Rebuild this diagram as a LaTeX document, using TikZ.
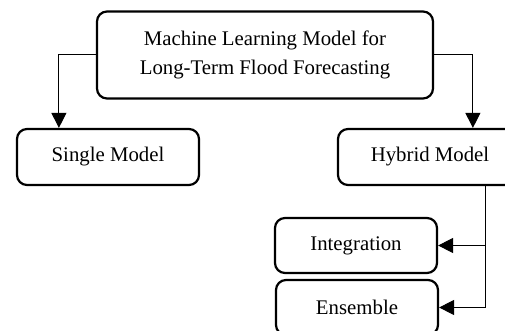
\documentclass[tikz,border=0pt]{standalone}
\usepackage{fontspec}
\setmainfont{Liberation Serif}
\usetikzlibrary{arrows.meta}

\tikzset{
  box/.style={draw,line width=1.1pt,rounded corners=5pt,align=center,
    inner sep=0pt,font=\fontsize{10.4}{14.5}\selectfont},
  link/.style={line width=0.5pt,-{Triangle[width=7.5pt,length=7.5pt]}}
}

\begin{document}
\begin{tikzpicture}[x=0.5pt,y=-0.5pt]
\useasboundingbox (0,0) rectangle (505,331);
% boxes
\node[box,minimum width=168pt,minimum height=43.5pt] (top) at (265,55)
  {Machine Learning Model for\\Long-Term Flood Forecasting};
\node[box,minimum width=91pt,minimum height=28pt] (single) at (108,157) {Single Model};
\node[box,minimum width=92pt,minimum height=28pt] (hybrid) at (430,157) {Hybrid Model};
\node[box,minimum width=81pt,minimum height=27.5pt] (integ) at (356,245.5) {Integration};
\node[box,minimum width=81pt,minimum height=27.5pt] (ens) at (357,307.5) {Ensemble};
% connectors
\draw[link] (top.west) -| ([xshift=21.5pt]single.north west);
\draw[link] (top.east) -| ([xshift=68pt]hybrid.north west);
\coordinate (split) at ([xshift=74.5pt]hybrid.south west);
\draw[link] (split) |- (integ.east);
\draw[link] (split) |- (ens.east);
\end{tikzpicture}
\end{document}
